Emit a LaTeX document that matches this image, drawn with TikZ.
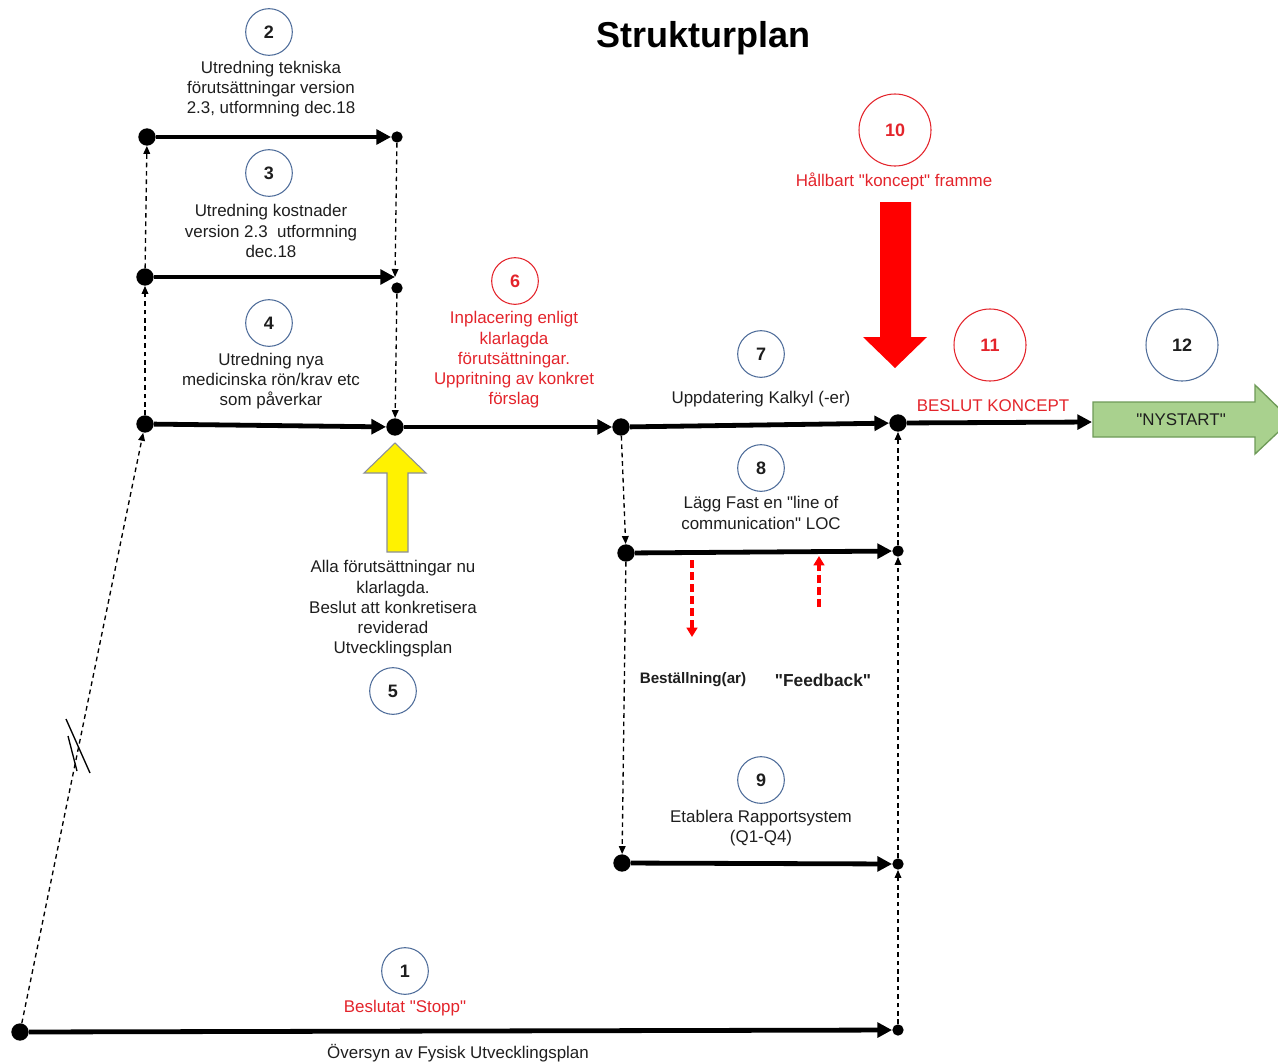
\documentclass[tikz,border=0pt]{standalone}
\usepackage{fontspec}
\setmainfont{Liberation Sans}[Ligatures=TeXOff]
\usetikzlibrary{arrows.meta}
\newcommand\myq{\char34\relax}
\definecolor{cblue}{HTML}{4F6D9A}
\definecolor{tred}{HTML}{E3242B}
\definecolor{tblk}{HTML}{1E1E1E}
\definecolor{ngreen}{HTML}{A9D18E}
\definecolor{ngreenD}{HTML}{6E9A58}
\definecolor{yedge}{HTML}{8A8F9A}
\begin{document}
\begin{tikzpicture}[x=0.75pt,y=-0.75pt,
 num/.style={circle,draw=cblue,line width=0.8pt,minimum size=35pt,inner sep=0pt,font=\bfseries\fontsize{13.5}{14}\selectfont,text=tblk},
 bignum/.style={num,minimum size=54pt},
 rednum/.style={draw=tred,text=tred},
 body/.style={align=center,font=\fontsize{12.7}{15.2}\selectfont,text=tblk,inner sep=0pt},
 redtxt/.style={body,text=tred},
 bigdot/.style={circle,fill=black,minimum size=13pt,inner sep=0pt},
 smalldot/.style={circle,fill=black,minimum size=8.5pt,inner sep=0pt},
 mainline/.style={line width=3.6pt,-{Triangle[length=11pt,width=11pt]}},
 dashline/.style={line width=1pt,dash pattern=on 3.5pt off 2.8pt,-{Triangle[length=6pt,width=5pt]}},
 reddash/.style={line width=2.3pt,draw=red,dash pattern=on 6pt off 3pt,-{Triangle[length=7pt,width=8pt]}},
]
\useasboundingbox (0,0) rectangle (1278,1061);

% title
\node[font=\bfseries\fontsize{27}{30}\selectfont,text=black] (title) at (703,38) {Strukturplan};

% big block arrows
\fill[red] (880,202)--(911,202)--(911,337)--(927,337)--(895,368)--(863,337)--(880,337)--cycle;
\draw[fill=yellow,draw=yedge,line width=0.8pt] (387,552)--(387,473)--(364,473)--(395,443)--(426,473)--(408,473)--(408,552)--cycle;
\draw[fill=ngreen,draw=ngreenD,line width=1pt] (1093,402)--(1255,402)--(1255,385)--(1291,420)--(1255,454)--(1255,437)--(1093,437)--cycle;
\node[body] (nys) at (1181,420) {\myq NYSTART\myq};

% numbered circles
\node[num] (c2) at (269,32) {2};
\node[num] (c3) at (269,173) {3};
\node[num] (c4) at (269,323) {4};
\node[num,rednum] (c6) at (515,281) {6};
\node[num] (c7) at (761,354) {7};
\node[num] (c8) at (761,468) {8};
\node[num] (c9) at (761,780) {9};
\node[num] (c5) at (393,691) {5};
\node[num] (c1) at (405,971) {1};
\node[bignum,rednum] (c10) at (895,130) {10};
\node[bignum,rednum] (c11) at (990,345) {11};
\node[bignum] (c12) at (1182,345) {12};

% texts
\node[body] (t2) at (271,89) {Utredning tekniska\\förutsättningar version\\2.3, utformning dec.18};
\node[body] (t3) at (271,231) {Utredning kostnader\\version 2.3\ \ utformning\\dec.18};
\node[body] (t4) at (271,381) {Utredning nya\\medicinska rön/krav etc\\som påverkar};
\node[redtxt] (t6) at (514,360) {Inplacering enligt\\klarlagda\\förutsättningar.\\Uppritning av konkret\\förslag};
\node[body] (t5) at (393,609) {Alla förutsättningar nu\\klarlagda.\\Beslut att konkretisera\\reviderad\\Utvecklingsplan};
\node[body] (t7) at (761,399) {Uppdatering Kalkyl (-er)};
\node[body] (t8) at (761,513) {Lägg Fast en \myq line of\\communication\myq{} LOC};
\node[body] (t9) at (761,828) {Etablera Rapportsystem\\(Q1-Q4)};
\node[redtxt] (t10) at (894,181) {Hållbart \myq koncept\myq{} framme};
\node[redtxt] (tbk) at (993,406) {BESLUT KONCEPT};
\node[redtxt] (tstop) at (405,1008) {Beslutat \myq Stopp\myq};
\node[body] (tov) at (458,1053) {Översyn av Fysisk Utvecklingsplan};
\node[body,font=\bfseries\fontsize{11.4}{14}\selectfont] (tbest) at (693,680) {Beställning(ar)};
\node[body,font=\bfseries\fontsize{13}{15}\selectfont] (tfeed) at (823,680) {\myq Feedback\myq};

% dots
\node[bigdot] (s2) at (147,137) {};
\node[smalldot] (e2) at (397,137) {};
\node[bigdot] (s3) at (145,277) {};
\coordinate (j3) at (395,277);
\node[smalldot] (d3) at (397,288) {};
\node[bigdot] (s4) at (145,424) {};
\node[bigdot] (m4) at (395,427) {};
\node[bigdot] (m6) at (621,427) {};
\node[bigdot] (m7) at (898,423) {};
\coordinate (nyw) at (1092,422);
\node[bigdot] (s8) at (626,553) {};
\node[smalldot] (e8) at (898,551) {};
\node[bigdot] (s9) at (622,863) {};
\node[smalldot] (e9) at (898,864) {};
\node[bigdot] (s1) at (20,1032) {};
\node[smalldot] (e1) at (898,1030) {};

% main lines
\draw[mainline] (s2) -- (e2);
\draw[mainline] (s3) -- (j3);
\draw[mainline] (s4) -- (m4);
\draw[mainline] (m4) -- (m6);
\draw[mainline] (m6) -- (m7);
\draw[mainline] (m7) -- (nyw);
\draw[mainline] (s8) -- (e8);
\draw[mainline] (s9) -- (e9);
\draw[mainline] (s1) -- (e1);

% dashed links
\draw[dashline] (s4) -- (s3);
\draw[dashline] (s3) -- (s2);
\draw[dashline] (s1) -- (s4);
\draw[dashline] (e2) -- (j3);
\draw[dashline] (d3) -- (m4);
\draw[dashline] (m6) -- (s8);
\draw[dashline] (s8) -- (s9);
\draw[dashline] (e1) -- (e9);
\draw[dashline] (e9) -- (e8);
\draw[dashline] (e8) -- (m7);

% break marks
\draw[line width=1pt] (66,719) -- (90,773);
\draw[line width=1pt] (68,736) -- (77,771);

% red dashed arrows
\coordinate (r1a) at (692,560);
\coordinate (r1b) at (692,637);
\coordinate (r2a) at (819,607);
\coordinate (r2b) at (819,556);
\draw[reddash] (r1a) -- (r1b);
\draw[reddash] (r2a) -- (r2b);
\end{tikzpicture}
\end{document}
